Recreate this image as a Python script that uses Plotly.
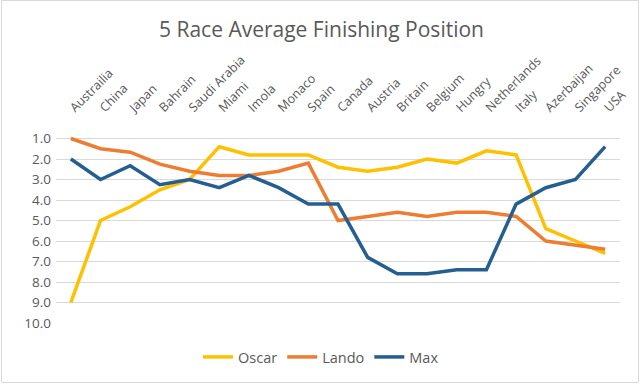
import plotly.graph_objects as go

races = ["Austrailia", "China", "Japan", "Bahrain", "Saudi Arabia", "Miami", "Imola",
         "Monaco", "Spain", "Canada", "Austria", "Britain", "Belgium", "Hungry",
         "Netherlands", "Italy", "Azerbaijan", "Singapore", "USA"]

oscar = [9.0, 5.0, 4.33, 3.5, 3.0, 1.4, 1.8, 1.8, 1.8, 2.4, 2.6, 2.4, 2.0, 2.2,
         1.6, 1.8, 5.4, 6.0, 6.6]
lando = [1.0, 1.5, 1.67, 2.25, 2.6, 2.8, 2.8, 2.6, 2.2, 5.0, 4.8, 4.6, 4.8, 4.6,
         4.6, 4.8, 6.0, 6.2, 6.4]
max_v = [2.0, 3.0, 2.33, 3.25, 3.0, 3.4, 2.8, 3.4, 4.2, 4.2, 6.8, 7.6, 7.6, 7.4,
         7.4, 4.2, 3.4, 3.0, 1.4]

series = [("Oscar", oscar, "#FFC000"), ("Lando", lando, "#ED7D31"), ("Max", max_v, "#255E91")]
y_ticks = [1, 2, 3, 4, 5, 6, 7, 8, 9, 10]

FONT = "Open Sans"
W, H = 640, 384
ML, MR, MT, MB = 56, 20, 118, 61

fig = go.Figure()
for name, vals, col in series:
    fig.add_trace(go.Scatter(x=races, y=vals, name=name, mode="lines",
                             line=dict(color=col, width=3.5)))

pw = W - ML - MR
ph = H - MT - MB
def px(p):
    return (p - ML) / pw
def py(q):
    return (H - MB - q) / ph

fig.update_layout(
    width=W, height=H,
    margin=dict(l=ML, r=MR, t=MT, b=MB, autoexpand=False),
    paper_bgcolor="white", plot_bgcolor="white",
    font=dict(family=FONT, color="#595959", size=12),
    title=dict(text="5 Race Average Finishing Position", x=321.5 / W, xanchor="center",
               xref="container", y=1 - 30 / H, yanchor="middle", yref="container",
               font=dict(size=21, color="#595959", family=FONT)),
    xaxis=dict(side="top", tickangle=-45, range=[-0.5, len(races) - 0.5], automargin=False,
               showgrid=False, showline=False, ticks="", tickfont=dict(size=12.5, color="#595959")),
    yaxis=dict(range=[10, 0], tickvals=y_ticks, tickformat=".1f", showgrid=True, automargin=False,
               gridcolor="#D9D9D9", gridwidth=1, zeroline=False, showline=False,
               ticks="", ticklabelstandoff=4, tickfont=dict(size=13.5, color="#595959")),
    legend=dict(orientation="h", x=321 / W, xanchor="center", xref="container",
                y=1 - 357 / H, yref="container", yanchor="middle",
                font=dict(size=14.5, color="#595959", family=FONT)),
    shapes=[dict(type="rect", xref="paper", yref="paper",
                 x0=px(1.5), x1=px(638.5), y0=py(382.5), y1=py(0.5),
                 line=dict(color="#D9D9D9", width=1), layer="below")],
)

fig.write_html("out.html", config={"displayModeBar": False},
               post_script="document.body.style.margin='0';document.body.style.overflow='hidden';")
